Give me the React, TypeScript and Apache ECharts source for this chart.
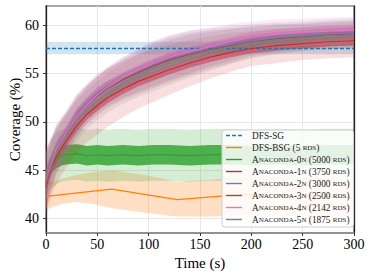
import React, { useEffect, useRef } from "react";
import * as echarts from "echarts";

const FONT = "Liberation Serif";

// ---------- data ----------
const timeRange = [0, 300];
const coverageRange = [38.5, 62];

const dfsSgTimes = [0, 300];
const dfsSgMean = [57.6, 57.6];
const dfsSgLow = [57.0, 57.0];
const dfsSgHigh = [58.3, 58.3];

const bsgTimes = [0, 64, 128, 192, 256, 300];
const bsgMean = [42.3, 43.05, 41.95, 42.5, 42.35, 42.15];
const bsgBandTimes = [0, 15, 30, 45, 64, 96, 128, 160, 192, 224, 256, 300];
const bsgLow = [40.9, 41.5, 41.7, 41.5, 41.1, 40.6, 40.2, 40.2, 40.3, 40.3, 40.2, 40.1];
const bsgHigh = [43.6, 44.1, 44.5, 44.8, 45.0, 44.5, 43.8, 44.0, 44.3, 44.3, 44.2, 44.0];

const anaTimes = [0, 2, 5, 10, 15, 20, 30, 40, 50, 60, 75, 90, 105, 120, 140, 160, 180, 200, 225, 250, 275, 300];
const ana0Mean = [43.5, 44.8, 45.6, 46.2, 46.5, 46.6, 46.7, 46.5, 46.6, 46.5, 46.6, 46.5, 46.6, 46.6, 46.5, 46.6, 46.6, 46.5, 46.6, 46.5, 46.6, 46.6];
const ana1Mean = [43.2, 44.2, 45.2, 46.4, 47.3, 48.1, 49.6, 50.8, 51.7, 52.5, 53.4, 54.2, 54.8, 55.4, 56.1, 56.7, 57.2, 57.6, 57.9, 58.1, 58.3, 58.4];
const ana2Mean = [44.0, 44.9, 45.8, 47.3, 48.2, 49.0, 50.8, 52.0, 53.0, 53.7, 54.6, 55.3, 56.0, 56.6, 57.2, 57.7, 58.1, 58.5, 58.8, 59.0, 59.2, 59.3];
const ana3Mean = [43.9, 44.8, 45.7, 47.1, 48.0, 48.8, 50.6, 51.8, 52.7, 53.5, 54.4, 55.1, 55.8, 56.4, 57.0, 57.5, 57.9, 58.3, 58.6, 58.8, 59.0, 59.1];
const ana4Mean = [43.8, 44.7, 45.6, 47.2, 48.0, 48.9, 50.6, 51.8, 52.8, 53.6, 54.6, 55.4, 56.1, 56.7, 57.3, 57.8, 58.3, 58.8, 59.1, 59.3, 59.4, 59.5];
const ana5Mean = [43.8, 44.5, 45.4, 46.9, 47.7, 48.5, 50.1, 51.3, 52.2, 53.0, 54.0, 54.8, 55.5, 56.1, 56.8, 57.3, 57.8, 58.2, 58.5, 58.7, 58.9, 59.0];

// half-widths of the shaded spread
const ana0Spread = [1.2, 2.0, 2.5, 2.7, 2.7, 2.7, 2.7, 2.7, 2.7, 2.7, 2.7, 2.7, 2.7, 2.7, 2.7, 2.7, 2.7, 2.7, 2.7, 2.7, 2.7, 2.7];
const ana0Noise = [0.6, 0.8, 0.9, 1.0, 1.0, 1.0, 1.0, 1.0, 1.0, 1.0, 1.0, 1.0, 1.0, 1.0, 1.0, 1.0, 1.0, 1.0, 1.0, 1.0, 1.0, 1.0];
const ana1Spread = [3.2, 3.0, 2.9, 2.8, 2.8, 2.8, 2.8, 2.9, 3.0, 3.0, 2.9, 2.8, 2.7, 2.6, 2.4, 2.2, 2.0, 1.8, 1.8, 1.7, 1.7, 1.7];
const clusterSpread = [3.0, 2.8, 2.6, 2.4, 2.3, 2.2, 2.1, 2.0, 2.0, 2.0, 2.1, 2.2, 2.3, 2.3, 2.2, 2.0, 1.8, 1.6, 1.5, 1.4, 1.4, 1.4];
const clusterNoise = [1.0, 0.9, 0.8, 0.7, 0.6, 0.6, 0.6, 0.55, 0.55, 0.55, 0.5, 0.5, 0.5, 0.5, 0.5, 0.5, 0.5, 0.5, 0.5, 0.5, 0.5, 0.5];

const names = [
  "DFS-SG",
  "DFS-BSG (5 rds)",
  "Anaconda-0n (5000 rds)",
  "Anaconda-1n (3750 rds)",
  "Anaconda-2n (3000 rds)",
  "Anaconda-3n (2500 rds)",
  "Anaconda-4n (2142 rds)",
  "Anaconda-5n (1875 rds)",
];
const colors = ["#1f77b4", "#ff7f0e", "#2ca02c", "#d62728", "#9467bd", "#8c564b", "#e377c2", "#7f7f7f"];

const SOLID_ICON = "path://M0,0h16v1.4h-16z";
const DASH_ICON = "path://M0,0h4v1.4h-4z M6,0h4v1.4h-4z M12,0h4v1.4h-4z";

// ---------- helpers ----------
function bandSeries(times: number[], lo: number[], hi: number[], color: string, opacity: number) {
  return {
    type: "custom",
    silent: true,
    data: times.map((t, i) => [t, lo[i], hi[i]]),
    encode: { x: 0, y: [1, 2] },
    renderItem: (params: any, api: any) => {
      if (params.dataIndex !== 0) return null;
      const pts: number[][] = [];
      for (let i = 0; i < times.length; i++) pts.push(api.coord([times[i], hi[i]]));
      for (let i = times.length - 1; i >= 0; i--) pts.push(api.coord([times[i], lo[i]]));
      return { type: "polygon", shape: { points: pts }, style: { fill: color, opacity } };
    },
  };
}

function lineSeries(name: string, times: number[], vals: number[], color: string, width: number, dashed = false) {
  return {
    type: "line",
    name,
    silent: true,
    symbol: "none",
    showSymbol: false,
    data: times.map((t, i) => [t, vals[i]]),
    lineStyle: { color, width, type: dashed ? [4, 2] : "solid" },
    itemStyle: { color },
  };
}

function offset(vals: number[], d: number[], sign: number) {
  return vals.map((v, i) => v + sign * d[i]);
}

function smallCaps(s: string) {
  let out = "";
  let cur = "";
  let curSmall: boolean | null = null;
  const flush = () => {
    if (cur) out += `{${curSmall ? "s" : "n"}|${cur}}`;
    cur = "";
  };
  for (const ch of s) {
    const small = ch >= "a" && ch <= "z";
    if (curSmall !== null && small !== curSmall) flush();
    curSmall = small;
    cur += small ? ch.toUpperCase() : ch;
  }
  flush();
  return out;
}

function anaSeries(idx: number, mean: number[], spread: number[], noise: number[], outerOp: number, innerOp: number) {
  const c = colors[idx];
  return [
    bandSeries(anaTimes, offset(mean, spread, -1), offset(mean, spread, 1), c, outerOp),
    bandSeries(anaTimes, offset(mean, noise, -1), offset(mean, noise, 1), c, innerOp),
    lineSeries(names[idx], anaTimes, mean, c, 1.2),
  ];
}

export default function App() {
  const ref = useRef<HTMLDivElement>(null);
  useEffect(() => {
    if (!ref.current) return;
    const chart = echarts.init(ref.current, undefined, { renderer: "svg" });
    const series: any[] = [
      bandSeries(dfsSgTimes, dfsSgLow, dfsSgHigh, colors[0], 0.2),
      lineSeries(names[0], dfsSgTimes, dfsSgMean, colors[0], 1.5, true),
      bandSeries(bsgBandTimes, bsgLow, bsgHigh, colors[1], 0.25),
      lineSeries(names[1], bsgTimes, bsgMean, colors[1], 1.3),
      ...anaSeries(2, ana0Mean, ana0Spread, ana0Noise, 0.2, 0.8),
      ...anaSeries(3, ana1Mean, ana1Spread, clusterNoise, 0.15, 0.6),
      ...anaSeries(4, ana2Mean, clusterSpread, clusterNoise, 0.15, 0.45),
      ...anaSeries(5, ana3Mean, clusterSpread, clusterNoise, 0.15, 0.45),
      ...anaSeries(6, ana4Mean, clusterSpread, clusterNoise, 0.15, 0.5),
      ...anaSeries(7, ana5Mean, clusterSpread, clusterNoise, 0.15, 0.5),
    ];
    const tickText = { fontFamily: FONT, fontSize: 14, color: "#000" };
    const titleText = { fontFamily: FONT, fontSize: 15, color: "#000" };
    chart.setOption({
      animation: false,
      backgroundColor: "#fff",
      grid: {
        left: 46, right: 19, top: 6, bottom: 45,
        containLabel: false,
        outerBoundsMode: "none",
        show: true, borderColor: "#8a8a8a", borderWidth: 1.5,
      },
      xAxis: {
        type: "value",
        min: timeRange[0],
        max: timeRange[1],
        interval: 50,
        name: "Time (s)",
        nameLocation: "middle",
        nameGap: 22,
        nameMoveOverlap: false,
        nameTextStyle: titleText,
        axisLine: { show: true, lineStyle: { color: "#8a8a8a", width: 1.5 } },
        axisTick: { show: true, length: 3, lineStyle: { color: "#333" } },
        axisLabel: { ...tickText, margin: 4.5 },
        splitLine: { show: true, lineStyle: { color: "#e8e8e8", width: 1 } },
      },
      yAxis: [
        {
          type: "value",
          min: coverageRange[0],
          max: coverageRange[1],
          splitNumber: 5,
          name: "Coverage (%)",
          nameLocation: "middle",
          nameGap: 24,
          nameMoveOverlap: false,
          nameTextStyle: titleText,
          axisLine: { show: true, lineStyle: { color: "#222", width: 1.3 } },
          axisTick: { show: true, length: 3, lineStyle: { color: "#333" } },
          axisLabel: { ...tickText, margin: 7, showMinLabel: false, showMaxLabel: false },
          splitLine: { show: true, showMinLine: false, showMaxLine: false, lineStyle: { color: "#e8e8e8", width: 1 } },
        },
        {
          type: "value",
          position: "right",
          min: coverageRange[0],
          max: coverageRange[1],
          axisLine: { show: true, lineStyle: { color: "#222", width: 1.3 } },
          axisTick: { show: false },
          axisLabel: { show: false },
          splitLine: { show: false },
        },
      ],
      legend: {
        data: names.map((n, i) => ({ name: n, icon: i === 0 ? DASH_ICON : SOLID_ICON })),
        orient: "vertical",
        left: 222,
        top: 130,
        itemWidth: 16,
        itemHeight: 1.4,
        itemGap: 3,
        padding: [1, 4, 3, 4],
        backgroundColor: "rgba(255,255,255,0.85)",
        borderColor: "#d0d0d0",
        borderWidth: 1,
        borderRadius: 3,
        formatter: (n: string) => smallCaps(n),
        textStyle: {
          fontFamily: FONT,
          fontSize: 9.3,
          color: "#222",
          padding: [0, 0, 0, 5],
          rich: {
            n: { fontFamily: FONT, fontSize: 9.3, color: "#222", lineHeight: 11 },
            s: { fontFamily: FONT, fontSize: 7, color: "#222", lineHeight: 11 },
          },
        },
      },
      series,
    });
    return () => chart.dispose();
  }, []);
  return <div ref={ref} style={{ width: 373, height: 278, position: "absolute", left: 0, top: 0 }} />;
}
